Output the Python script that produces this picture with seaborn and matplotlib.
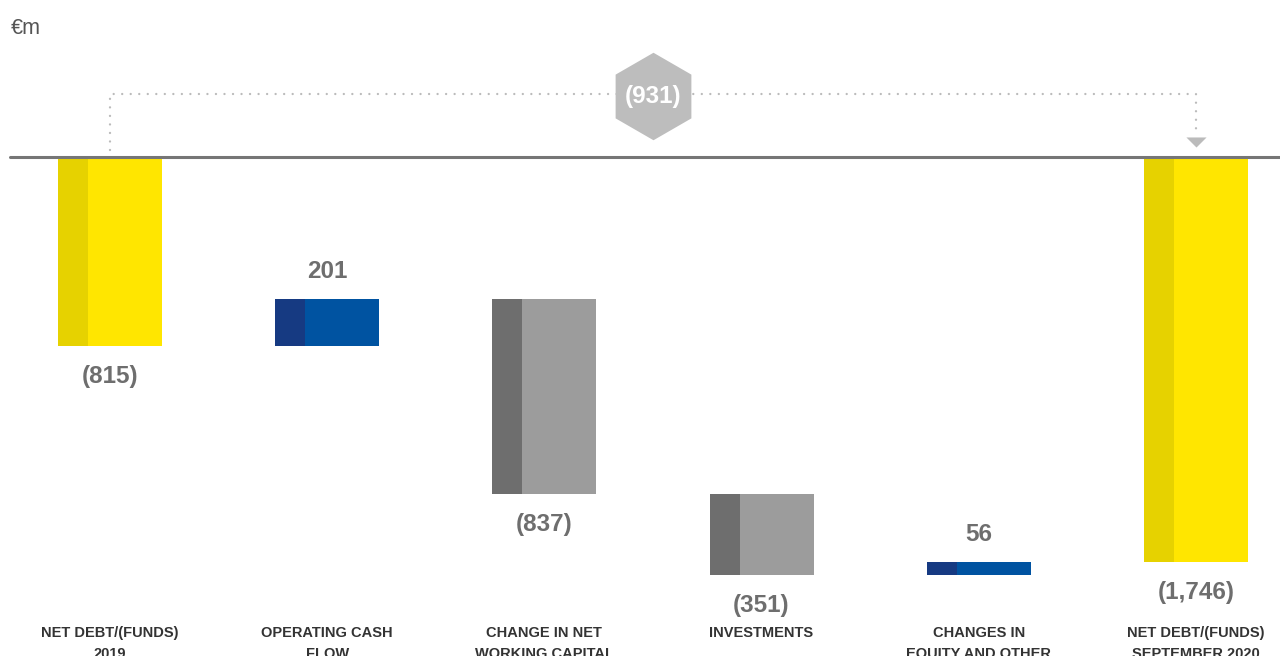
import numpy as np
import seaborn as sns
import matplotlib.pyplot as plt
from matplotlib.path import Path

# Net debt bridge, €m
categories = ["NET DEBT/(FUNDS)\n2019", "OPERATING CASH\nFLOW", "CHANGE IN NET\nWORKING CAPITAL",
              "INVESTMENTS", "CHANGES IN\nEQUITY AND OTHER", "NET DEBT/(FUNDS)\nSEPTEMBER 2020"]
values = [-815, 201, -837, -351, 56, -1746]
kinds = ["total", "delta", "delta", "delta", "delta", "total"]

sns.set_style("white")
plt.rcParams['font.family'] = ['Liberation Sans', 'DejaVu Sans']

colors = {
    "total": ("#E6D200", "#FFE600"),
    "pos": ("#163A82", "#0053A1"),
    "neg": ("#6E6E6E", "#9C9C9C"),
}

fig = plt.figure(figsize=(12.8, 6.56), dpi=100)
ax = fig.add_axes([0, 0, 1, 1])
ax.set_xlim(-0.5064, 5.387)
ax.set_ylim(-2151, 677)
ax.axis("off")

bar_w = 0.479
strip_w = 0.138

running = 0
for i, (v, k) in enumerate(zip(values, kinds)):
    if k == "total":
        bottom, top = min(0, v), max(0, v)
        key = "total"
        running = v
    else:
        start, end = running, running + v
        bottom, top = min(start, end), max(start, end)
        key = "pos" if v > 0 else "neg"
        running = end
    dark, light = colors[key]
    left = i - bar_w / 2
    ax.bar(left, top - bottom, bottom=bottom, width=bar_w, align="edge", color=light, lw=0)
    ax.bar(left, top - bottom, bottom=bottom, width=strip_w, align="edge", color=dark, lw=0)
    label = f"{v:,}" if v > 0 else f"({abs(v):,})"
    if v > 0:
        ax.annotate(label, (i, top), xytext=(0, 20), textcoords="offset points",
                    ha="center", va="center", fontsize=17.5, fontweight="bold", color="#6E6E6E")
    else:
        ax.annotate(label, (i, bottom), xytext=(0, -22), textcoords="offset points",
                    ha="center", va="center", fontsize=17.5, fontweight="bold", color="#6E6E6E")
    ax.text(i, -2022, categories[i], ha="center", va="top", fontsize=10.5,
            fontweight="bold", color="#333333", linespacing=1.6)

# zero baseline
ax.axhline(0, xmin=10 / 1280, xmax=1, color="#767676", lw=2.2, zorder=3)

# connector between the two totals
change = values[-1] - values[0]
y_conn = 271
dot = dict(color="#BBBBBB", lw=1.7, linestyle=(0, (0.01, 3.6)), dash_capstyle="round",
           solid_capstyle="round")
ax.plot([0, 0, 5, 5], [30, y_conn, y_conn, 105], **dot)
tri = Path([(-1, 0.5), (1, 0.5), (0, -0.5), (-1, 0.5)])
ax.plot([5], [65], marker=tri, ms=14.5, color="#BBBBBB", mew=0)
ax.plot([2.5], [263], marker="h", ms=63, color="#BDBDBD", mew=0)
ax.text(2.5, 263, f"({abs(change):,})" if change < 0 else f"{change:,}", ha="center", va="center",
        fontsize=17.5, fontweight="bold", color="white")

fig.text(11 / 1280, 1 - 28 / 656, "€m", ha="left", va="center", fontsize=15.5,
         color="#555555")

fig.savefig("out.png", dpi=100)
